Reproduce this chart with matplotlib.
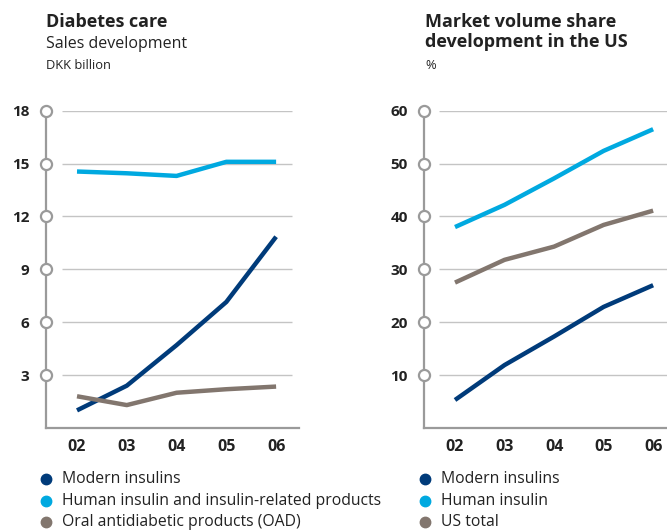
import matplotlib
matplotlib.use("Agg")
import matplotlib.pyplot as plt
from matplotlib.lines import Line2D

plt.rcParams['font.family'] = ['Open Sans', 'DejaVu Sans']

# ---- data ----
years = ["02", "03", "04", "05", "06"]

sales_modern = [1.0, 2.4, 4.7, 7.15, 10.85]
sales_human = [14.55, 14.45, 14.3, 15.1, 15.1]
sales_oad = [1.8, 1.3, 2.0, 2.2, 2.35]
sales_ticks = [3, 6, 9, 12, 15, 18]

share_modern = [5.3, 11.9, 17.3, 22.9, 27.0]
share_human = [38.0, 42.2, 47.2, 52.4, 56.5]
share_total = [27.5, 31.8, 34.3, 38.4, 41.1]
share_ticks = [10, 20, 30, 40, 50, 60]

labels_left = ["Modern insulins", "Human insulin and insulin-related products",
               "Oral antidiabetic products (OAD)"]
labels_right = ["Modern insulins", "Human insulin", "US total"]

DARK = "#003b7a"
LIGHT = "#00a9e0"
BROWN = "#82766e"
AXIS = "#9a9a9a"
GRID = "#c4c4c4"
TEXT = "#222222"

W, H = 667, 532
fig = plt.figure(figsize=(W / 100, H / 100), dpi=100)


def px_axes(x0, x1, ytop, ybot):
    return fig.add_axes([x0 / W, (H - ybot) / H, (x1 - x0) / W, (ybot - ytop) / H])


def style(ax, ticks, ymax, xlim, gx0, gx1):
    ax.set_ylim(0, ymax)
    ax.set_xlim(*xlim)
    for s in ("top", "right"):
        ax.spines[s].set_visible(False)
    for s in ("left", "bottom"):
        ax.spines[s].set_color(AXIS)
        ax.spines[s].set_linewidth(1.6)
    ax.hlines(ticks, gx0, gx1, transform=ax.get_yaxis_transform(),
              color=GRID, lw=1.0, zorder=1)
    ax.set_yticks(ticks)
    ax.set_yticklabels([str(t) for t in ticks], fontsize=11, fontweight='bold', color=TEXT)
    ax.set_xticks(range(len(years)))
    ax.set_xticklabels(years, fontsize=11.5, fontweight='bold', color=TEXT)
    ax.tick_params(axis='y', length=0, pad=12)
    ax.tick_params(axis='x', length=0, pad=8)
    ax.plot([0] * len(ticks), ticks, 'o', transform=ax.get_yaxis_transform(),
            ms=8, mfc='white', mec=AXIS, mew=1.6, clip_on=False, zorder=5)


x = range(len(years))

# left panel: sales
ax1 = px_axes(46, 299, 110.7, 428)
style(ax1, sales_ticks, 18, (-0.623, 4.46), 0.063, 0.972)
ax1.plot(x, sales_human, color=LIGHT, lw=3.2, solid_capstyle='butt', zorder=3)
ax1.plot(x, sales_modern, color=DARK, lw=3.2, solid_capstyle='butt', zorder=3)
ax1.plot(x, sales_oad, color=BROWN, lw=3.2, solid_capstyle='butt', zorder=3)

# right panel: US volume share
ax2 = px_axes(424.3, 667, 110.7, 428)
style(ax2, share_ticks, 60, (-0.62, 4.28), 0.06, 1.0)
ax2.plot(x, share_human, color=LIGHT, lw=3.2, solid_capstyle='butt', zorder=3)
ax2.plot(x, share_total, color=BROWN, lw=3.2, solid_capstyle='butt', zorder=3)
ax2.plot(x, share_modern, color=DARK, lw=3.2, solid_capstyle='butt', zorder=3)


def ftext(xp, yp, s, **kw):
    fig.text(xp / W, 1 - yp / H, s, va='baseline', ha='left', color=TEXT, **kw)


# titles
ftext(46, 27, "Diabetes care", fontsize=13, fontweight='bold')
ftext(46, 48, "Sales development", fontsize=11.5)
ftext(46, 69, "DKK billion", fontsize=9.3)
ftext(425, 27, "Market volume share", fontsize=13, fontweight='bold')
ftext(425, 47, "development in the US", fontsize=13, fontweight='bold')
ftext(425, 69, "%", fontsize=9.3)

# legends
colors = [DARK, LIGHT, BROWN]
rows = [479, 501, 522]
for lx, labels in ((46, labels_left), (425, labels_right)):
    for lab, c, ry in zip(labels, colors, rows):
        fig.lines.append(Line2D([lx / W], [1 - ry / H], marker='o', ms=7.5,
                                color=c, ls='none', transform=fig.transFigure))
        fig.text((lx + 16) / W, 1 - ry / H, lab, va='center', ha='left',
                 fontsize=11.3, color=TEXT)

fig.savefig("out.png", dpi=100)
